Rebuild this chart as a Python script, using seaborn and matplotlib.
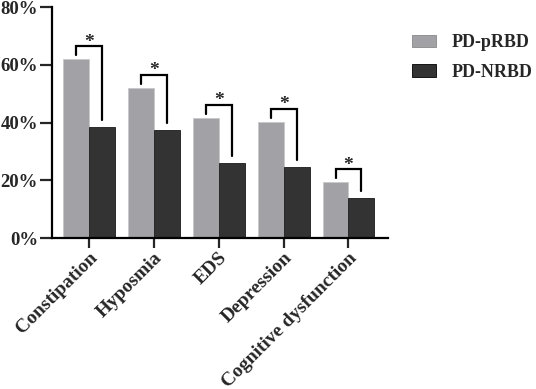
import numpy as np
import pandas as pd
import matplotlib
matplotlib.use("Agg")
import matplotlib.pyplot as plt
import seaborn as sns
from matplotlib.patches import Patch
from matplotlib.ticker import PercentFormatter, MultipleLocator

# values (%)
categories = ["Constipation", "Hyposmia", "EDS", "Depression", "Cognitive dysfunction"]
groups = ["PD-pRBD", "PD-NRBD"]
prbd = [62.0, 52.1, 41.6, 40.3, 19.3]
nrbd = [38.4, 37.3, 26.0, 24.5, 13.7]
signif = ["*", "*", "*", "*", "*"]

colors = ["#a2a2a6", "#333333"]

sns.set_style("ticks")
plt.rcParams['font.family'] = ['Liberation Serif', 'DejaVu Serif']
plt.rcParams['font.weight'] = 'bold'

df = pd.DataFrame({
  "symptom": categories * 2,
  "group": [groups[0]] * len(categories) + [groups[1]] * len(categories),
  "pct": prbd + nrbd,
})

fig = plt.figure(figsize=(5.36, 3.89), dpi=100)
ax = fig.add_axes([0.097, 0.388, 0.627, 0.594])

sns.barplot(data=df, x="symptom", y="pct", hue="group", order=categories,
            hue_order=groups, palette=colors, width=0.8, saturation=1,
            edgecolor="#1a1a1a", linewidth=0.6, ax=ax, legend=False)
# lighter edge on grey bars
for p in ax.patches[:len(categories)]:
  p.set_edgecolor("#c8c8cc")

ax.set_ylim(0, 80)
ax.set_xlim(-0.57, 4.61)
ax.yaxis.set_major_locator(MultipleLocator(20))
ax.yaxis.set_major_formatter(PercentFormatter(decimals=0))
ax.set_xlabel("")
ax.set_ylabel("")
sns.despine(ax=ax)
for s in ["left", "bottom"]:
  ax.spines[s].set_linewidth(1.6)
  ax.spines[s].set_color("black")
ax.tick_params(axis="y", length=9, width=1.6, pad=1, labelsize=13.5)
ax.tick_params(axis="x", length=7, width=1.6, pad=1, labelsize=14)
plt.setp(ax.get_xticklabels(), rotation=45, ha="right", va="top",
         rotation_mode="anchor", fontweight="bold")
plt.setp(ax.get_yticklabels(), fontweight="bold")

# significance brackets
for i, (a, b, s) in enumerate(zip(prbd, nrbd, signif)):
  top = a + 4.5
  x0, x1 = i - 0.2, i + 0.2
  ax.plot([x0, x0, x1, x1], [a + 1.4, top, top, b + 2.5], color="black",
          lw=1.6, solid_joinstyle="miter", clip_on=False)
  ax.text(i, top - 0.2, s, ha="center", va="baseline", fontsize=14,
          fontweight="bold")

handles = [Patch(facecolor=c, edgecolor="#888888" if k == 0 else "black", lw=0.6)
           for k, c in enumerate(colors)]
fig.legend(handles, groups, loc="upper left", bbox_to_anchor=(0.755, 0.93),
           frameon=False, handlelength=1.35, handleheight=0.7,
           handletextpad=0.85, labelspacing=0.7, borderaxespad=0,
           prop={"weight": "bold", "size": 13})

fig.savefig("out.png", dpi=100)
